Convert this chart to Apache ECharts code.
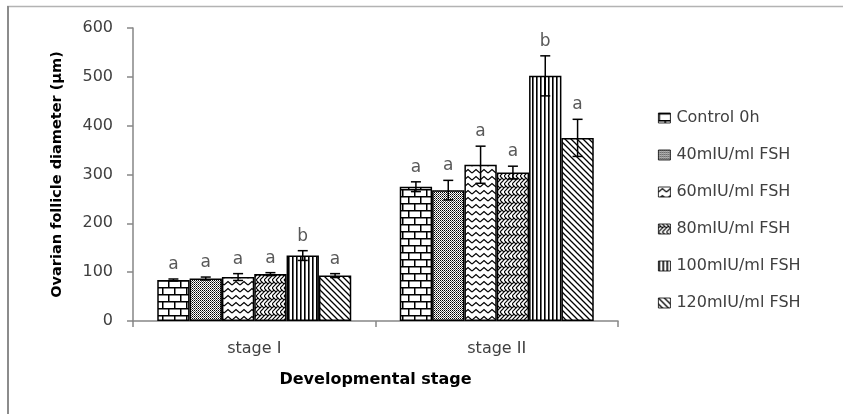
<!DOCTYPE html>
<html>
<head>
<meta charset="utf-8">
<script src="https://cdn.jsdelivr.net/npm/echarts@6/dist/echarts.min.js"></script>
<style>
  html, body { margin: 0; padding: 0; background: #fff; }
  #chart { width: 843px; height: 414px; }
</style>
</head>
<body>
<div id="chart"></div>
<script>
// data
const categories = ['stage I', 'stage II'];
const seriesNames = ['Control 0h', '40mIU/ml FSH', '60mIU/ml FSH', '80mIU/ml FSH', '100mIU/ml FSH', '120mIU/ml FSH'];
const control = [84, 275];
const fsh40 = [87, 268];
const fsh60 = [90, 320];
const fsh80 = [96, 304];
const fsh100 = [134, 502];
const fsh120 = [93, 375];
const errControl = [2, 10];
const err40 = [3, 20];
const err60 = [7, 38];
const err80 = [3, 13];
const err100 = [10, 41];
const err120 = [4, 38];
const lettersStageI = ['a', 'a', 'a', 'a', 'b', 'a'];
const lettersStageII = ['a', 'a', 'a', 'a', 'b', 'a'];
const yTicks = [0, 100, 200, 300, 400, 500, 600];

const means = [control, fsh40, fsh60, fsh80, fsh100, fsh120];
const errs = [errControl, err40, err60, err80, err100, err120];
const letters = [lettersStageI, lettersStageII];

const FONT = 'DejaVu Sans';

// hatch patterns, black on white
function tile(w, h, draw) {
  const c = document.createElement('canvas');
  c.width = w; c.height = h;
  const ctx = c.getContext('2d');
  ctx.fillStyle = '#fff';
  ctx.fillRect(0, 0, w, h);
  ctx.strokeStyle = '#000';
  ctx.fillStyle = '#000';
  draw(ctx);
  return { image: c, repeat: 'repeat' };
}

const patterns = [
  // bricks
  tile(12, 14, function(ctx) {
    ctx.lineWidth = 1.5;
    ctx.beginPath();
    ctx.moveTo(0, 0.75); ctx.lineTo(12, 0.75);
    ctx.moveTo(0, 7.75); ctx.lineTo(12, 7.75);
    ctx.moveTo(0.75, 0); ctx.lineTo(0.75, 7);
    ctx.moveTo(6.75, 7); ctx.lineTo(6.75, 14);
    ctx.stroke();
  }),
  // fine dots
  tile(2, 2, function(ctx) {
    ctx.fillRect(0, 0, 1, 1);
    ctx.fillStyle = '#555';
    ctx.fillRect(1, 1, 1, 1);
  }),
  // horizontal zigzag
  tile(8, 7, function(ctx) {
    ctx.lineWidth = 1.2;
    ctx.beginPath();
    ctx.moveTo(0, 5); ctx.lineTo(4, 1.5); ctx.lineTo(8, 5);
    ctx.stroke();
  }),
  // weave
  tile(8, 8, function(ctx) {
    ctx.lineWidth = 1.1;
    ctx.beginPath();
    ctx.moveTo(0, 0); ctx.lineTo(4, 4); ctx.lineTo(0, 8);
    ctx.moveTo(4, 0); ctx.lineTo(8, 4); ctx.lineTo(4, 8);
    ctx.moveTo(0, 4); ctx.lineTo(2, 2);
    ctx.moveTo(4, 4); ctx.lineTo(6, 2);
    ctx.stroke();
  }),
  // vertical lines
  tile(4, 4, function(ctx) {
    ctx.fillRect(0, 0, 1.6, 4);
  }),
  // diagonal lines
  tile(6, 6, function(ctx) {
    ctx.lineWidth = 1.3;
    ctx.beginPath();
    ctx.moveTo(-1, -1); ctx.lineTo(7, 7);
    ctx.moveTo(-1, 5); ctx.lineTo(1, 7);
    ctx.moveTo(5, -1); ctx.lineTo(7, 1);
    ctx.stroke();
  })
];

const barSeries = seriesNames.map(function(name, i) {
  return {
    name: name,
    type: 'bar',
    barGap: '0%',
    barCategoryGap: '20%',
    data: means[i],
    itemStyle: { color: patterns[i], borderColor: '#000', borderWidth: 1.5 },
    emphasis: { disabled: true },
    silent: true
  };
});

// error bars + significance letters
const errData = [];
seriesNames.forEach(function(name, s) {
  categories.forEach(function(cat, c) {
    errData.push([c, means[s][c], errs[s][c], s, letters[c][s]]);
  });
});

const errSeries = {
  type: 'custom',
  silent: true,
  data: errData,
  encode: { x: 0, y: 1 },
  z: 10,
  renderItem: function(params, api) {
    const c = api.value(0);
    const m = api.value(1);
    const e = api.value(2);
    const s = api.value(3);
    const letter = errData[params.dataIndex][4];
    const band = api.size([1, 0])[0];
    const bw = band * 0.8 / seriesNames.length;
    const x = api.coord([c, m])[0] - band * 0.4 + bw * (s + 0.5);
    const top = api.coord([c, m + e])[1];
    const bot = api.coord([c, m - e])[1];
    const cap = 5;
    const style = { stroke: '#000', lineWidth: 1.5 };
    return {
      type: 'group',
      children: [
        { type: 'line', shape: { x1: x, y1: top, x2: x, y2: bot }, style: style },
        { type: 'line', shape: { x1: x - cap, y1: top, x2: x + cap, y2: top }, style: style },
        { type: 'line', shape: { x1: x - cap, y1: bot, x2: x + cap, y2: bot }, style: style },
        {
          type: 'text',
          style: {
            x: x, y: top - 6, text: letter,
            textAlign: 'center', textVerticalAlign: 'bottom',
            font: '17px "' + FONT + '"', fill: '#595959'
          }
        }
      ]
    };
  }
};

const chart = echarts.init(document.getElementById('chart'));
chart.setOption({
  animation: false,
  backgroundColor: '#fff',
  textStyle: { fontFamily: FONT },
  grid: { left: 133, right: 225, top: 28, bottom: 93 },
  legend: {
    data: seriesNames.map(function(n) { return { name: n, icon: 'rect' }; }),
    orient: 'vertical',
    left: 653,
    top: 105,
    itemWidth: 12,
    itemHeight: 10,
    itemGap: 21,
    selectedMode: false,
    itemStyle: { borderWidth: 0.8, borderColor: '#000' },
    textStyle: { fontSize: 16, color: '#404040', lineHeight: 16, padding: [0, 0, 0, 1] }
  },
  xAxis: {
    type: 'category',
    data: categories,
    name: 'Developmental stage',
    nameLocation: 'middle',
    nameGap: 51,
    nameTextStyle: { fontSize: 16, fontWeight: 'bold', color: '#000' },
    axisLine: { lineStyle: { color: '#868686', width: 1.5 } },
    axisTick: { show: true, length: 6, lineStyle: { color: '#868686', width: 1.5 } },
    axisLabel: { fontSize: 16, color: '#404040', margin: 20 }
  },
  yAxis: {
    type: 'value',
    min: 0,
    max: yTicks[yTicks.length - 1],
    interval: yTicks[1] - yTicks[0],
    name: 'Ovarian follicle diameter (µm)',
    nameLocation: 'middle',
    nameGap: 68,
    nameTextStyle: { fontSize: 14.5, fontWeight: 'bold', color: '#000' },
    axisLine: { show: true, lineStyle: { color: '#868686', width: 1.5 } },
    axisTick: { show: true, length: 6, lineStyle: { color: '#868686', width: 1.5 } },
    axisLabel: { fontSize: 16, color: '#404040', margin: 20 },
    splitLine: { show: false }
  },
  graphic: [
    { type: 'line', shape: { x1: 7, y1: 6.5, x2: 843, y2: 6.5 }, style: { stroke: '#b3b3b3', lineWidth: 1.5 } },
    { type: 'line', shape: { x1: 8, y1: 6, x2: 8, y2: 414 }, style: { stroke: '#8c8c8c', lineWidth: 2 } }
  ],
  series: barSeries.concat([errSeries])
});
</script>
</body>
</html>
